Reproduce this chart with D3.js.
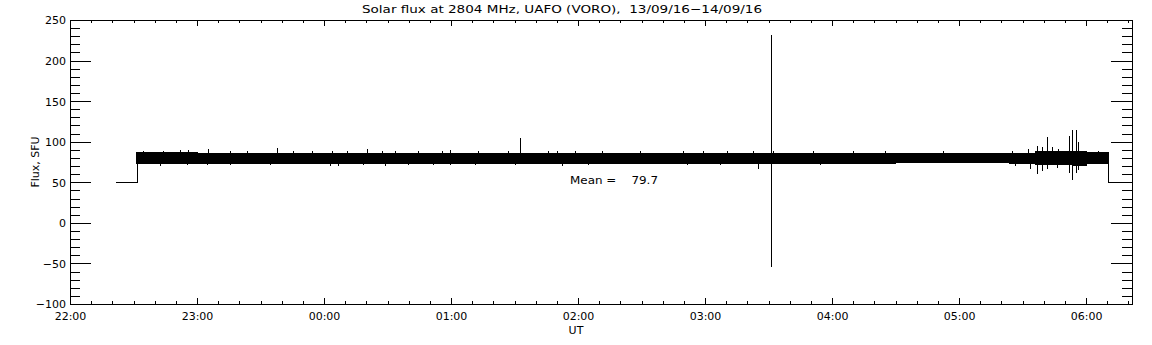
<!DOCTYPE html>
<html>
<head>
<meta charset="utf-8">
<script src="https://cdn.jsdelivr.net/npm/d3@7"></script>
<style>
body { margin: 0; background: #fff; }
text { font-family: "DejaVu Sans", sans-serif; font-size: 11px; fill: #000; }
</style>
</head>
<body>
<svg id="chart" width="1152" height="345"></svg>
<script>
var width = 1152;
var height = 345;
var padding = { t: 20, r: 20, b: 41, l: 70 };

var titleText = "Solar flux at 2804 MHz, UAFO (VORO),  13/09/16\u221214/09/16";
var meanText = "Mean =    79.7";

// time in hours since 00:00 of 13/09 (values past 24 are the next day)
var hourTicks = [22, 23, 24, 25, 26, 27, 28, 29, 30];
var fluxTicks = [-100, -50, 0, 50, 100, 150, 200, 250];

// flat level before and after the observation
var stepBeforeT = [22.354, 22.525, 22.525];
var stepBeforeV = [50, 50, 80];
var stepAfterT = [30.176, 30.176, 30.362];
var stepAfterV = [80, 50, 50];

// envelope of the noisy flux record
var bandT  = [22.525, 23.0, 23.5, 24.0, 24.5, 25.0, 25.5, 26.0, 26.5, 27.0, 27.5, 28.0, 28.5, 29.0, 29.4, 29.6, 29.9, 30.0, 30.176];
var bandHi = [86.5, 86, 86, 86, 85.5, 85.5, 85.5, 85.5, 86, 86, 86, 86, 86, 86, 86, 87.5, 88.5, 86.5, 86.5];
var bandLo = [73.5, 73.5, 73, 73.5, 73.5, 73.5, 73.5, 73.5, 73, 73, 73, 73, 74, 74, 73.5, 72, 71, 73.5, 73.5];

// single excursions above the band
var spikeUpT = [22.577, 22.735, 22.866, 22.932, 23.089, 23.260, 23.391, 23.627, 23.758, 23.903, 24.060, 24.179, 24.336,
  24.454, 24.559, 24.743, 24.927, 24.992, 25.215, 25.451, 25.543, 25.766, 25.832, 25.976, 26.187,
  26.488, 26.829, 26.987, 27.171, 27.380, 27.522, 27.538, 27.853, 28.168,
  28.417, 28.877, 29.415, 29.546, 29.612, 29.651, 29.690, 29.730, 29.782, 29.866, 29.892, 29.919, 29.939, 30.097];
var spikeUpV = [89, 89, 89.5, 90, 91, 89, 88.5, 92, 89, 89, 89, 89, 90.5,
  88, 88, 88, 88.5, 89.5, 88, 88.5, 105, 89, 88.5, 88, 88,
  88, 89, 88.5, 88, 88.5, 231, 89, 88, 88,
  89, 89, 89, 91, 95, 94, 106, 93, 91, 107, 114, 114, 100, 89];

// single excursions below the band
var spikeDnT = [22.525, 22.709, 22.919, 23.076, 23.260, 23.575, 24.047, 24.113, 24.309,
  24.480, 24.664, 24.861, 24.992, 25.189, 25.504, 25.871, 26.081,
  26.856, 27.118, 27.420, 27.522, 27.906,
  29.441, 29.559, 29.612, 29.651, 29.690, 29.769, 29.866, 29.892, 29.919, 29.939];
var spikeDnV = [57, 70, 71, 71.5, 71, 71.5, 70.5, 70, 71,
  70, 71, 71, 71, 71.5, 71.5, 70.5, 71.5,
  71, 71.5, 66, -54, 71.5,
  70, 66, 60, 64, 66, 67, 62, 53, 62, 65];

var svg = d3.select("#chart");

var x = d3.scaleLinear().domain([22, 30.362]).range([padding.l, width - padding.r]);
var y = d3.scaleLinear().domain([-100, 250]).range([height - padding.b, padding.t]);

var minorX = d3.range(22, 30.34, 1 / 6).filter(function (d) {
  return Math.abs(d - Math.round(d)) > 0.01;
});
var minorY = d3.range(-100, 251, 10).filter(function (d) { return d % 50 !== 0; });

function hourLabel(h) {
  var hh = Math.round(h) % 24;
  return (hh < 10 ? "0" : "") + hh + ":00";
}
function fluxLabel(v) {
  return v < 0 ? "\u2212" + Math.abs(v) : String(v);
}

// Axes +++++++++++++++
var bottomY = height - padding.b;
var rightX = width - padding.r;

var gx = svg.append("g")
  .attr("transform", "translate(0," + bottomY + ")")
  .call(d3.axisBottom(x).tickValues(hourTicks).tickSize(-6).tickSizeOuter(0).tickFormat(hourLabel));
gx.selectAll("text").attr("y", 16).attr("dy", 0);

svg.append("g")
  .attr("transform", "translate(0," + bottomY + ")")
  .call(d3.axisBottom(x).tickValues(minorX).tickSize(-3).tickSizeOuter(0).tickFormat(""));

svg.append("g")
  .attr("transform", "translate(0," + padding.t + ")")
  .call(d3.axisTop(x).tickValues(hourTicks).tickSize(-6).tickSizeOuter(0).tickFormat(""));
svg.append("g")
  .attr("transform", "translate(0," + padding.t + ")")
  .call(d3.axisTop(x).tickValues(minorX).tickSize(-3).tickSizeOuter(0).tickFormat(""));

var gy = svg.append("g")
  .attr("transform", "translate(" + padding.l + ",0)")
  .call(d3.axisLeft(y).tickValues(fluxTicks).tickSize(-21).tickSizeOuter(0).tickPadding(4).tickFormat(fluxLabel));
gy.selectAll("text").attr("dy", "0.36em");

svg.append("g")
  .attr("transform", "translate(" + padding.l + ",0)")
  .call(d3.axisLeft(y).tickValues(minorY).tickSize(-10).tickSizeOuter(0).tickFormat(""));

svg.append("g")
  .attr("transform", "translate(" + rightX + ",0)")
  .call(d3.axisRight(y).tickValues(fluxTicks).tickSize(-21).tickSizeOuter(0).tickFormat(""));
svg.append("g")
  .attr("transform", "translate(" + rightX + ",0)")
  .call(d3.axisRight(y).tickValues(minorY).tickSize(-10).tickSizeOuter(0).tickFormat(""));

svg.selectAll(".domain, .tick line").attr("stroke", "#000").attr("shape-rendering", "crispEdges");
svg.selectAll(".tick text").attr("font-size", null).attr("font-family", null).attr("fill", "#000");

// Data +++++++++++++++
var band = bandT.map(function (t, i) { return { t: t, hi: bandHi[i], lo: bandLo[i] }; });

var plot = svg.append("g");

plot.append("path")
  .datum(band)
  .attr("d", d3.area()
    .curve(d3.curveStepAfter)
    .x(function (d) { return x(d.t); })
    .y0(function (d) { return y(d.lo); })
    .y1(function (d) { return y(d.hi); }))
  .attr("fill", "#000")
  .attr("stroke", "#000")
  .attr("stroke-width", 1)
  .attr("shape-rendering", "crispEdges");

var stepLine = d3.line()
  .x(function (d) { return Math.round(x(d[0])) + 0.5; })
  .y(function (d) { return Math.round(y(d[1])) + 0.5; });

[[stepBeforeT, stepBeforeV], [stepAfterT, stepAfterV]].forEach(function (s) {
  plot.append("path")
    .datum(s[0].map(function (t, i) { return [t, s[1][i]]; }))
    .attr("d", stepLine)
    .attr("fill", "none")
    .attr("stroke", "#000")
    .attr("stroke-width", 1)
    .attr("shape-rendering", "crispEdges");
});

function drawSpikes(ts, vs) {
  plot.selectAll(null)
    .data(ts.map(function (t, i) { return { t: t, v: vs[i] }; }))
    .enter()
    .append("line")
    .attr("x1", function (d) { return Math.round(x(d.t)) + 0.5; })
    .attr("x2", function (d) { return Math.round(x(d.t)) + 0.5; })
    .attr("y1", y(80))
    .attr("y2", function (d) { return Math.round(y(d.v)); })
    .attr("stroke", "#000")
    .attr("stroke-width", 1)
    .attr("shape-rendering", "crispEdges");
}
drawSpikes(spikeUpT, spikeUpV);
drawSpikes(spikeDnT, spikeDnV);

// Texts +++++++++++++++
svg.append("text")
  .attr("x", 362)
  .attr("y", 13)
  .attr("textLength", 400)
  .attr("lengthAdjust", "spacingAndGlyphs")
  .style("white-space", "pre")
  .text(titleText);

svg.append("text")
  .attr("x", 576)
  .attr("y", 334)
  .attr("text-anchor", "middle")
  .text("UT");

svg.append("text")
  .attr("transform", "translate(39," + (padding.t + (bottomY - padding.t) / 2) + ") rotate(-90)")
  .attr("text-anchor", "middle")
  .text("Flux, SFU");

svg.append("text")
  .attr("x", 570)
  .attr("y", 184)
  .attr("textLength", 88)
  .attr("lengthAdjust", "spacingAndGlyphs")
  .style("white-space", "pre")
  .text(meanText);
</script>
</body>
</html>
